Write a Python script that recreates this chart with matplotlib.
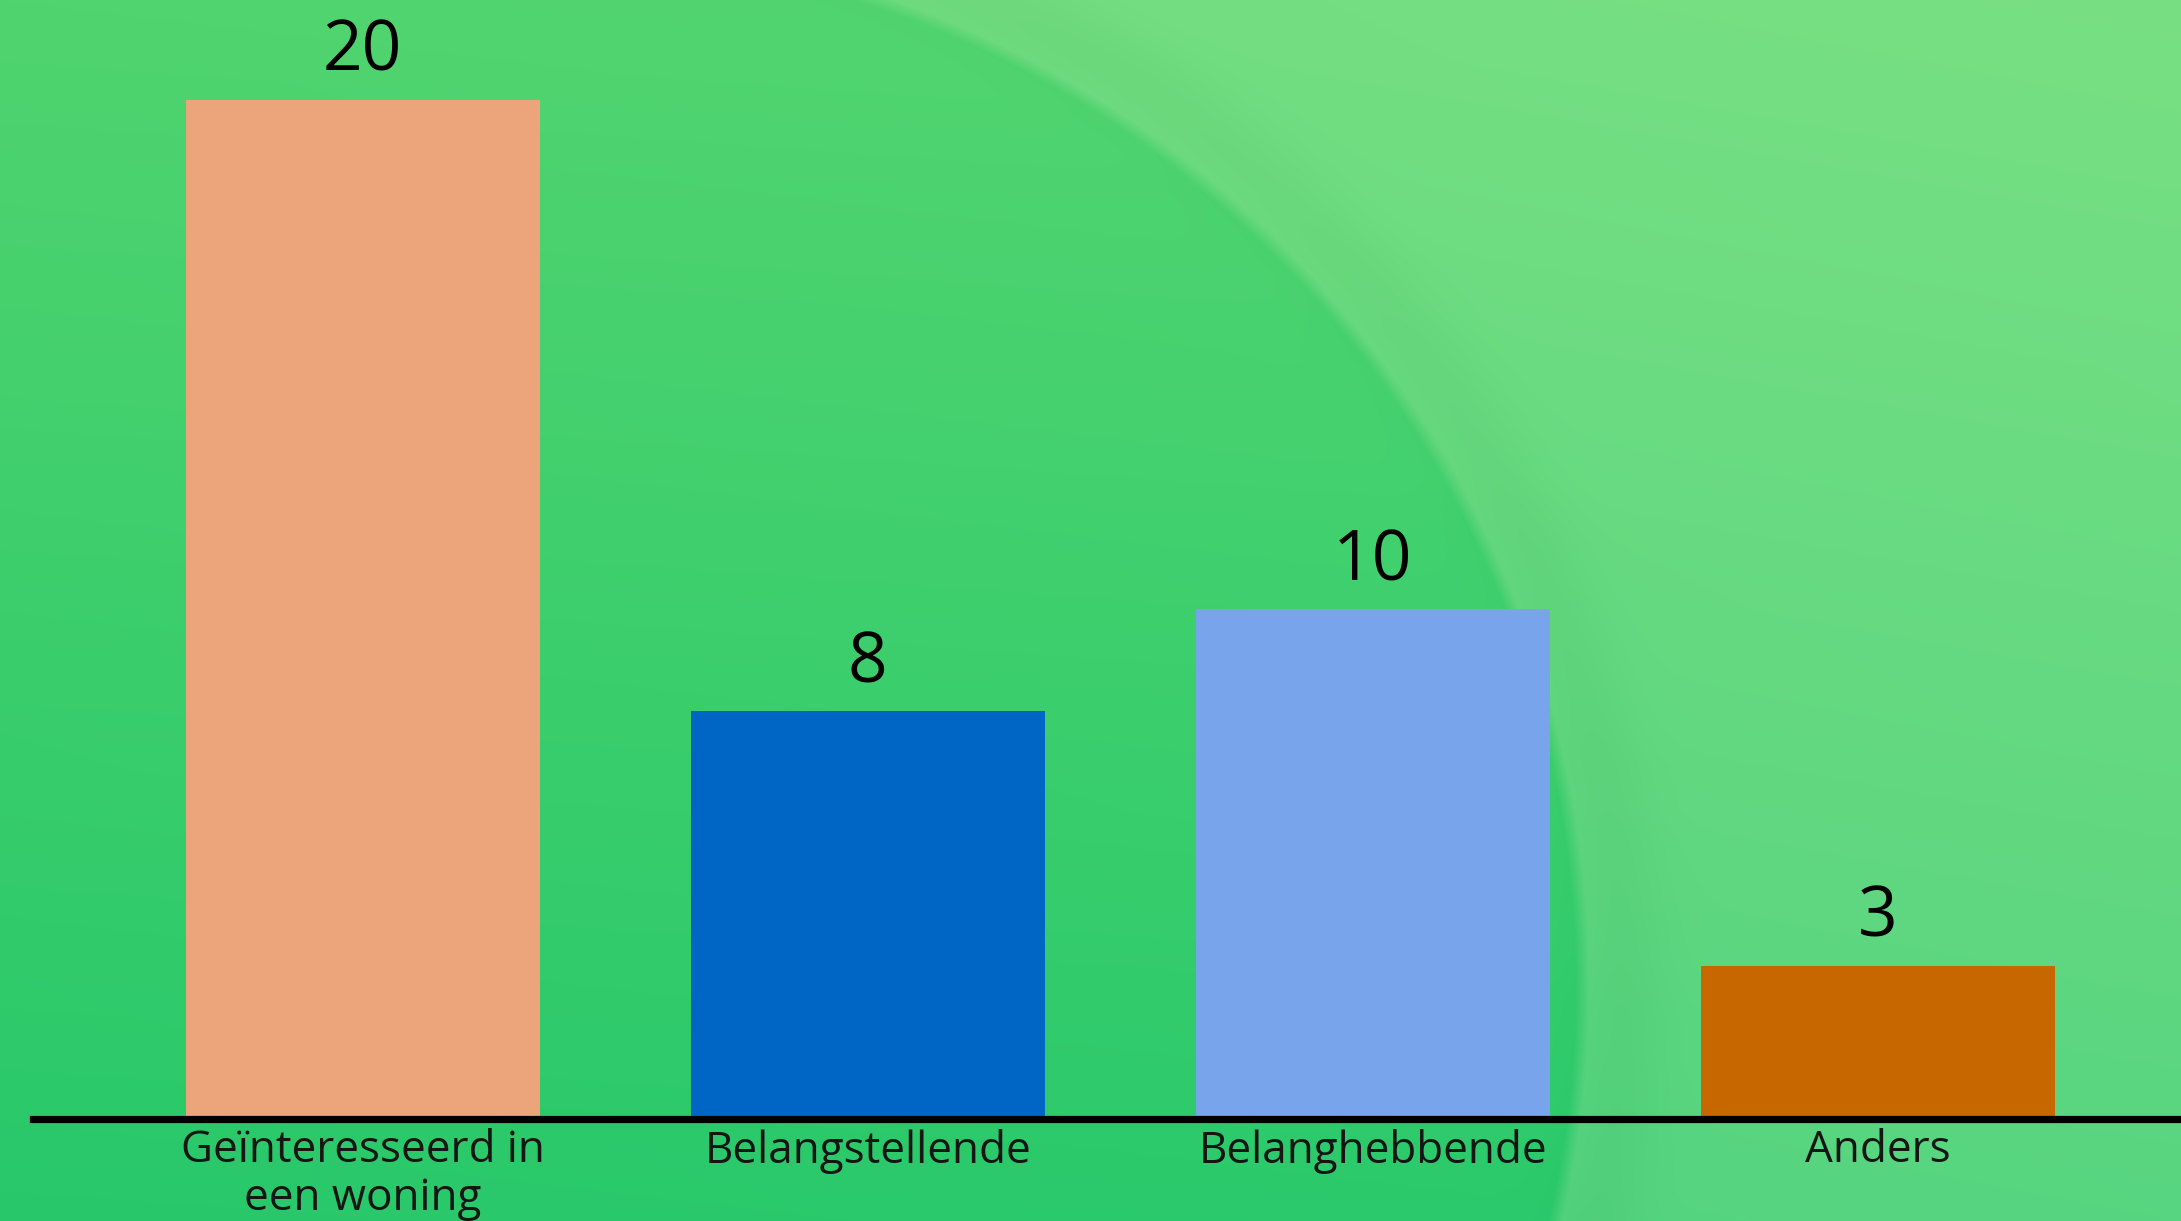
import numpy as np
import matplotlib
matplotlib.use("Agg")
import matplotlib.pyplot as plt

categories = ["Geïnteresseerd in\neen woning", "Belangstellende", "Belanghebbende", "Anders"]
values = [20, 8, 10, 3]
bar_colors = ["#eca57a", "#0066c6", "#78a4ec", "#c66700"]

W, H = 2181, 1221
DPI = 100
fig = plt.figure(figsize=(W / DPI, H / DPI), dpi=DPI)

# ---- decorative background (gradient + large soft circle) ----
yy, xx = np.mgrid[0:H, 0:W].astype(float)
ty = yy / H
tx = xx / W
inside_top = np.array([80, 212, 111]) / 255
inside_bot = np.array([40, 200, 106]) / 255
out_top = np.array([120, 224, 131]) / 255
out_bot = np.array([88, 213, 128]) / 255
inside = inside_top[None, None, :] * (1 - ty[..., None]) + inside_bot[None, None, :] * ty[..., None]
inside = inside + (tx[..., None] * np.array([0.02, 0.01, 0.01]))
outside = out_top[None, None, :] * (1 - ty[..., None]) + out_bot[None, None, :] * ty[..., None]
outside = outside - ((1 - tx[..., None]) * np.array([0.04, 0.015, 0.01]))
cx, cy, r = 542.0, 985.0, 1040.0
d = np.sqrt((xx - cx) ** 2 + (yy - cy) ** 2)
m = np.clip((d - r) / 14.0 + 0.5, 0, 1)
m = m * np.clip((xx - cx) / 60.0, 0, 1)
m = m[..., None]
bg = inside * (1 - m) + outside * m
shadow = (np.exp(-((d - r - 40) / 45.0) ** 2) * np.clip((xx - cx) / 60.0, 0, 1))[..., None] * 0.02
bg = np.clip(bg - shadow, 0, 1)
bgax = fig.add_axes([0, 0, 1, 1])
bgax.imshow(bg, aspect="auto", extent=[0, 1, 0, 1], origin="upper")
bgax.set_axis_off()

# ---- chart ----
ax = fig.add_axes([33 / W, 1 - 1119 / H, 1 - 33 / W, 1119 / H])
ax.patch.set_alpha(0)
x = np.arange(len(categories))
bars = ax.bar(x, values, width=0.70, color=bar_colors, zorder=2)
ax.set_xlim(-0.653, 3.6)
ax.set_ylim(0, 21.96)

for s in ["top", "right", "left"]:
    ax.spines[s].set_visible(False)
ax.spines["bottom"].set_linewidth(5.2)
ax.spines["bottom"].set_color("black")
ax.spines["bottom"].set_zorder(3)
ax.set_yticks([])
ax.set_xticks(x)
ax.set_xticklabels(categories, fontsize=31.7, family=["Open Sans", "DejaVu Sans"],
                   color="#151515", linespacing=1.1)
ax.tick_params(axis="x", length=0, pad=7)

for xi, v in zip(x, values):
    ax.annotate(str(v), (xi, v), xytext=(0, 21), textcoords="offset points",
                ha="center", va="baseline", fontsize=50,
                family=["Open Sans", "DejaVu Sans"], color="black")

fig.savefig("out.png", dpi=DPI)
